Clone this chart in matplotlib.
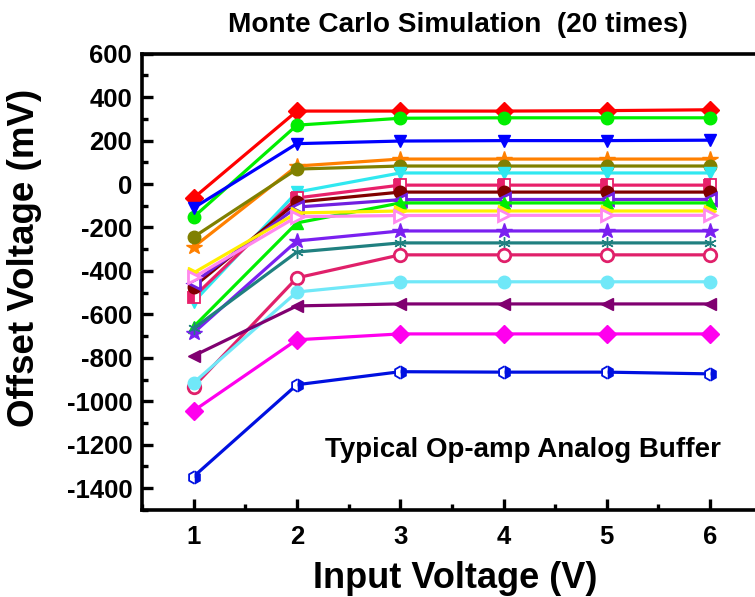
import numpy as np
import matplotlib.pyplot as plt
from matplotlib.ticker import MultipleLocator

# 入力電圧 (V)
x_vin = [1, 2, 3, 4, 5, 6]

# オフセット電圧 (mV) 各モンテカルロ試行
s_red = [-64, 336, 336, 336, 338, 342]
s_green = [-152, 271, 303, 305, 305, 305]
s_blue = [-110, 186, 198, 200, 200, 202]
s_orange = [-290, 83, 115, 115, 115, 115]
s_olive = [-244, 69, 83, 83, 83, 83]
s_cyan = [-543, -37, 51, 51, 51, 51]
s_pink = [-520, -64, -5, -5, -5, -5]
s_wine = [-473, -83, -37, -37, -37, -37]
s_violet = [-455, -106, -72, -71, -71, -71]
s_green2 = [-657, -179, -87, -87, -87, -87]
s_yellow = [-409, -133, -124, -124, -124, -124]
s_lmagenta = [-430, -150, -145, -144, -144, -144]
s_star = [-685, -262, -216, -216, -216, -216]
s_dcyan = [-665, -313, -271, -271, -271, -271]
s_ocircle = [-933, -432, -326, -326, -326, -326]
s_lcyan = [-915, -497, -450, -450, -450, -450]
s_purple = [-791, -561, -552, -552, -552, -552]
s_magenta = [-1044, -717, -690, -690, -690, -690]
s_royal = [-1347, -924, -864, -866, -866, -874]

# (データ, 色, マーカー, 塗り)
series = [
    (s_red, '#ff0000', 'D', 'full'),
    (s_green, '#00ee00', 'o', 'full'),
    (s_blue, '#0000ff', 'v', 'full'),
    (s_orange, '#ff8000', '*', 'full'),
    (s_olive, '#808000', 'o', 'full'),
    (s_cyan, '#30e8f0', 'v', 'full'),
    (s_pink, '#e8206a', 's', 'left'),
    (s_wine, '#800000', 'o', 'full'),
    (s_violet, '#7020e0', '<', 'none'),
    (s_green2, '#00ee00', '^', 'full'),
    (s_yellow, '#ffee00', '>', 'full'),
    (s_lmagenta, '#ff88ee', '>', 'none'),
    (s_star, '#7a20f0', '*', 'full'),
    (s_dcyan, '#208080', (6, 2, 0), 'full'),
    (s_ocircle, '#e0206a', 'o', 'none'),
    (s_lcyan, '#70e8f8', 'o', 'full'),
    (s_purple, '#800070', '<', 'full'),
    (s_magenta, '#ff00ee', 'D', 'full'),
    (s_royal, '#0010e0', 'h', 'right'),
]

plt.rcParams['font.family'] = ['Liberation Sans', 'DejaVu Sans']
plt.rcParams['font.weight'] = 'bold'
plt.rcParams['axes.unicode_minus'] = False

fig = plt.figure(figsize=(7.55, 5.97), dpi=100)
ax = fig.add_axes([0.188, 0.146, 0.821, 0.764])

for ys, col, mk, fs in series:
    ms = 11.5 if mk == '*' else 9
    if fs == 'none':
        ax.plot(x_vin, ys, color=col, lw=2.3, marker=mk, ms=ms,
                mfc='white', mec=col, mew=2.0)
    elif fs in ('left', 'right'):
        ax.plot(x_vin, ys, color=col, lw=2.3, marker=mk, ms=ms,
                fillstyle=fs, mfc=col, mfcalt='white', mec=col, mew=1.3)
    else:
        ax.plot(x_vin, ys, color=col, lw=2.3, marker=mk, ms=ms,
                mfc=col, mec=col, mew=1.0)

ax.set_xlim(0.5, 6.5)
ax.set_ylim(-1500, 600)
ax.xaxis.set_major_locator(MultipleLocator(1))
ax.xaxis.set_minor_locator(MultipleLocator(0.5))
ax.yaxis.set_major_locator(MultipleLocator(200))
ax.yaxis.set_minor_locator(MultipleLocator(100))
ax.tick_params(which='both', direction='in', width=2.4, labelsize=18.5, pad=7)
ax.tick_params(which='major', length=8)
ax.tick_params(which='minor', length=4.5)
ax.tick_params(axis='x', pad=11)
for sp in ax.spines.values():
    sp.set_linewidth(2.6)

ax.set_xlabel('Input Voltage (V)', fontsize=26, fontweight='bold')
ax.set_ylabel('Offset Voltage (mV)', fontsize=26.5, fontweight='bold')
ax.yaxis.set_label_coords(-0.162, 0.553)
ax.xaxis.set_label_coords((455 - 142) / 620, -0.112)

fig.text(458 / 755, 1 - 25 / 597, 'Monte Carlo Simulation  (20 times)',
         ha='center', va='center', fontsize=20.2, fontweight='bold')
ax.text(4.19, -1223, 'Typical Op-amp Analog Buffer', ha='center', va='center',
        fontsize=20, fontweight='bold')

fig.savefig('out.png', dpi=100)
